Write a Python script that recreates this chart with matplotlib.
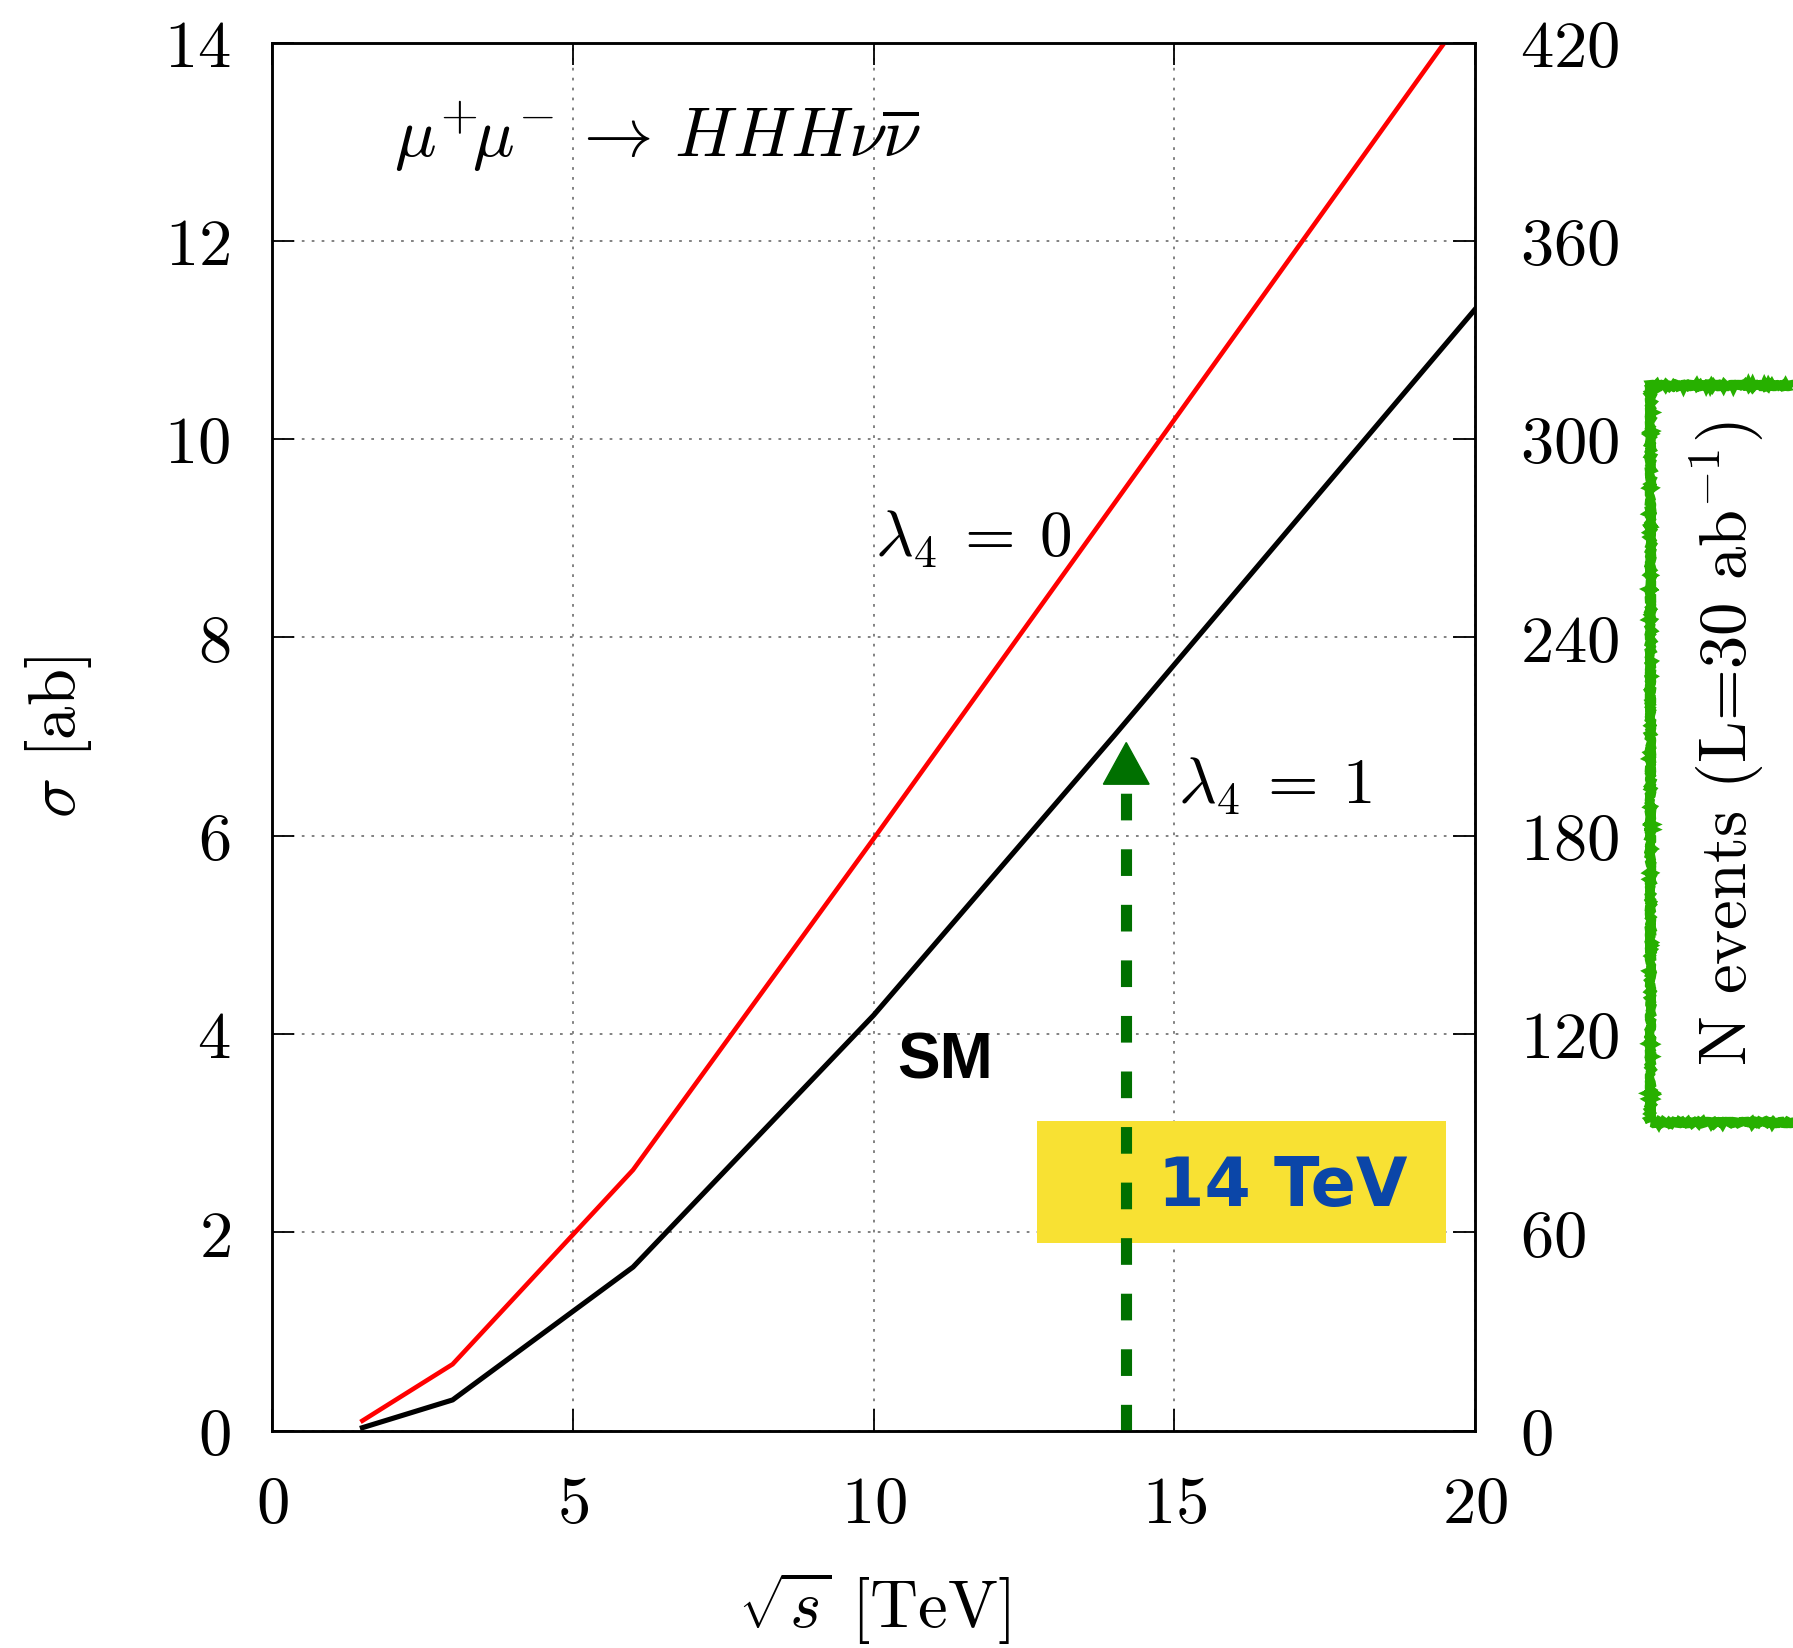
import numpy as np
import matplotlib
matplotlib.use("Agg")
import matplotlib.pyplot as plt
from matplotlib.patches import Rectangle, FancyArrow

# Fuente tipo LaTeX para todo el texto
plt.rcParams['font.family'] = 'serif'
plt.rcParams['font.serif'] = ['cmr10']
plt.rcParams['mathtext.fontset'] = 'cm'
plt.rcParams['axes.formatter.use_mathtext'] = True
plt.rcParams['axes.unicode_minus'] = False

# Energía en el centro de masas (TeV) y secciones eficaces (ab)
sqrt_s = [1.5, 3, 6, 10, 14, 20]
sigma_sm = [0.03, 0.31, 1.65, 4.19, 7.01, 11.31]
sigma_l4_0 = [0.10, 0.67, 2.63, 5.97, 9.35, 14.43]

# Luminosidad integrada para el eje de eventos (ab^-1)
lumi = 30
x_ticks = [0, 5, 10, 15, 20]
y_ticks = [0, 2, 4, 6, 8, 10, 12, 14]
n_ticks = [0, 60, 120, 180, 240, 300, 360, 420]

# Energía marcada con la flecha
e_mark = 14.2

fs = 48

fig = plt.figure(figsize=(17.93, 16.49), dpi=100)
ax = fig.add_axes([0.1518, 0.1318, 0.6709, 0.8418])

ax.plot(sqrt_s, sigma_l4_0, color='red', lw=3.3, zorder=3)
ax.plot(sqrt_s, sigma_sm, color='black', lw=3.7, zorder=3)

ax.set_xlim(0, 20)
ax.set_ylim(0, 14)
ax.set_xticks(x_ticks)
ax.set_yticks(y_ticks)
ax.tick_params(direction='in', length=16, width=1.3, labelsize=fs,
               top=True, right=False, pad=30)
ax.tick_params(axis='x', pad=32)
for sp in ax.spines.values():
    sp.set_linewidth(1.8)
ax.grid(True, color='#777777', linestyle=(0, (1.5, 4)), lw=1.3, zorder=0)

ax.set_xlabel(r'$\sqrt{s}$ [TeV]', fontsize=fs, labelpad=24)
ax.set_ylabel(r'$\sigma$ [ab]', fontsize=fs, labelpad=50)

# Eje derecho: número de eventos
ax2 = ax.twinx()
ax2.set_ylim(0, 14 * lumi)
ax2.set_yticks(n_ticks)
ax2.tick_params(direction='in', length=16, width=1.3, labelsize=fs, pad=32)
for sp in ax2.spines.values():
    sp.set_linewidth(1.8)

# Textos sobre las curvas
ax.text(2.03, 12.85, r'$\mu^{+}\!\mu^{-}\,\rightarrow\,HHH\nu\overline{\nu}$',
        fontsize=50, va='baseline', ha='left')
ax.text(10.02, 8.82, r'$\lambda_4\:=\:0$', fontsize=47, va='baseline')
ax.text(15.06, 6.33, r'$\lambda_4\:=\:1$', fontsize=47, va='baseline')
ax.text(11.19, 3.73, 'SM', fontsize=46, fontweight='bold',
        family='Liberation Sans', ha='center', va='center')

# Recuadro amarillo con la etiqueta de energía
ax.add_patch(Rectangle((12.72, 1.89), 19.51 - 12.72, 3.12 - 1.89,
                       facecolor='#f8e133', edgecolor='none', zorder=4))
ax.text(14.72, 2.47, '14 TeV', fontsize=48, fontweight='bold',
        family='DejaVu Sans', color='#0b46a8', ha='left', va='center', zorder=6)

# Flecha discontinua verde
ax.plot([e_mark, e_mark], [0, 6.5], color='#007000', lw=8,
        linestyle=(0, (2.4, 2.6)), zorder=5, solid_capstyle='butt')
ax.add_patch(FancyArrow(e_mark, 6.52, 0, 0.42, width=0, head_width=0.76,
                        head_length=0.42, length_includes_head=True,
                        color='#007000', zorder=5))

# Etiqueta del eje de eventos dentro de un recuadro dibujado a mano
box = Rectangle((0.9205, 0.319), 0.12, 0.447, transform=fig.transFigure,
                facecolor='none', edgecolor='#27b000', lw=6.5, clip_on=False)
box.set_sketch_params(scale=1.2, length=4, randomness=12)
fig.add_artist(box)
fig.text(0.963, 0.549, r'N events (L=30 ab$^{-1}$)', fontsize=fs,
         rotation=90, ha='center', va='center')

fig.savefig('out.png', dpi=100)
